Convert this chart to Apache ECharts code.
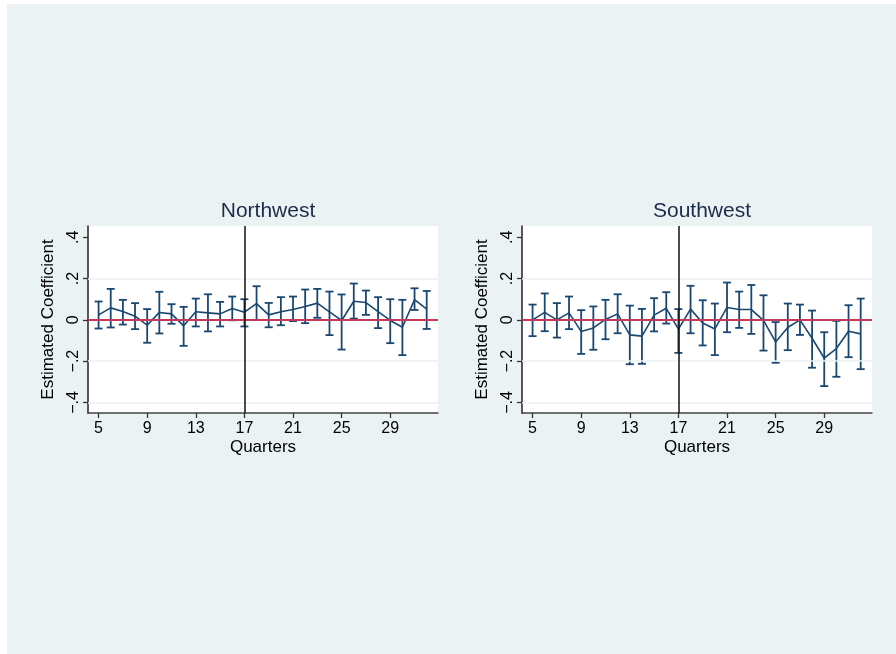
<!DOCTYPE html>
<html>
<head>
<meta charset="utf-8">
<script src="https://cdn.jsdelivr.net/npm/echarts@6/dist/echarts.min.js"></script>
<style>
  html, body { margin: 0; padding: 0; background: #ffffff; }
  #chart { width: 896px; height: 654px; }
</style>
</head>
<body>
<div id="chart"></div>
<script>
// Event-study coefficients by quarter, with 95% confidence bounds
const quarters = [5, 6, 7, 8, 9, 10, 11, 12, 13, 14, 15, 16, 17, 18, 19, 20, 21, 22, 23, 24, 25, 26, 27, 28, 29, 30, 31, 32];

const nwCoef  = [0.024, 0.058, 0.040, 0.018, -0.026, 0.036, 0.029, -0.029, 0.039, 0.034, 0.029, 0.055, 0.037, 0.079, 0.024, 0.039, 0.050, 0.065, 0.081, 0.039, -0.003, 0.090, 0.084, 0.040, -0.003, -0.036, 0.098, 0.052];
const nwUpper = [0.089, 0.150, 0.097, 0.081, 0.052, 0.136, 0.076, 0.063, 0.103, 0.124, 0.087, 0.113, 0.100, 0.163, 0.082, 0.110, 0.113, 0.147, 0.150, 0.137, 0.123, 0.176, 0.142, 0.110, 0.100, 0.097, 0.153, 0.140];
const nwLower = [-0.042, -0.037, -0.023, -0.045, -0.111, -0.066, -0.019, -0.126, -0.032, -0.056, -0.032, -0.002, -0.032, 0.000, -0.036, -0.026, -0.006, -0.016, 0.010, -0.074, -0.144, 0.006, 0.024, -0.040, -0.113, -0.171, 0.048, -0.044];

const swCoef  = [0.000, 0.036, 0.000, 0.034, -0.056, -0.039, 0.002, 0.029, -0.073, -0.079, 0.023, 0.056, -0.045, 0.052, -0.015, -0.044, 0.060, 0.050, 0.050, -0.003, -0.107, -0.037, 0.000, -0.089, -0.186, -0.139, -0.055, -0.068];
const swUpper = [0.074, 0.128, 0.081, 0.113, 0.047, 0.065, 0.097, 0.124, 0.069, 0.053, 0.105, 0.134, 0.052, 0.165, 0.095, 0.079, 0.181, 0.137, 0.169, 0.119, -0.011, 0.079, 0.074, 0.045, -0.060, -0.005, 0.071, 0.103];
const swLower = [-0.079, -0.055, -0.086, -0.045, -0.165, -0.145, -0.094, -0.065, -0.215, -0.213, -0.056, -0.018, -0.160, -0.065, -0.124, -0.171, -0.060, -0.039, -0.068, -0.149, -0.208, -0.147, -0.073, -0.232, -0.321, -0.276, -0.181, -0.239];

const xTicks = [5, 9, 13, 17, 21, 25, 29];
const yTicks = [-0.4, -0.2, 0, 0.2, 0.4];
const gridValues = [0.2, -0.2, -0.4];
const treatmentQuarter = 17;
const panelTitles = ['Northwest', 'Southwest'];

const NAVY = '#1a476f';
const FONT = 'Liberation Sans, Arial, Helvetica, sans-serif';

function fmtY(v) {
  if (Math.abs(v) < 1e-9) return '0';
  const s = Math.abs(v).toFixed(1).replace(/^0/, '');
  return (v < 0 ? '\u2212' : '') + s;
}

function errorBarItem(params, api) {
  const x = api.value(0);
  const lo = api.coord([x, api.value(1)]);
  const hi = api.coord([x, api.value(2)]);
  const half = 4;
  const style = { stroke: NAVY, lineWidth: 1.8, fill: null };
  return {
    type: 'group',
    children: [
      { type: 'line', shape: { x1: lo[0], y1: lo[1], x2: hi[0], y2: hi[1] }, style: style },
      { type: 'line', shape: { x1: lo[0] - half, y1: lo[1], x2: lo[0] + half, y2: lo[1] }, style: style },
      { type: 'line', shape: { x1: hi[0] - half, y1: hi[1], x2: hi[0] + half, y2: hi[1] }, style: style }
    ]
  };
}

const grids = [
  { left: 88, top: 226, width: 350, height: 187 },
  { left: 522, top: 226, width: 350, height: 187 }
];

function xAxisFor(i) {
  return {
    type: 'value', gridIndex: i, min: 4.13, max: 32.93,
    name: 'Quarters', nameLocation: 'middle', nameGap: 26,
    nameTextStyle: { fontFamily: FONT, fontSize: 17, color: '#000' },
    axisLine: { show: true, onZero: false, lineStyle: { color: '#444', width: 1.5 } },
    axisTick: { show: true, inside: false, length: 5, customValues: xTicks, lineStyle: { color: '#333', width: 1.3 } },
    axisLabel: { customValues: xTicks, margin: 8, fontFamily: FONT, fontSize: 16, color: '#000' },
    splitLine: { show: false }
  };
}

function yAxisFor(i) {
  return {
    type: 'value', gridIndex: i, min: -0.4515, max: 0.4549,
    name: 'Estimated Coefficient', nameLocation: 'middle', nameGap: 31, nameRotate: 90,
    nameTextStyle: { fontFamily: FONT, fontSize: 17, color: '#000' },
    axisLine: { show: true, onZero: false, lineStyle: { color: '#222', width: 1.5 } },
    axisTick: { show: true, inside: false, length: 5, customValues: yTicks, lineStyle: { color: '#333', width: 1.3 } },
    axisLabel: { customValues: yTicks, rotate: 90, margin: 6, fontFamily: FONT, fontSize: 16, color: '#000', formatter: fmtY },
    splitLine: { show: false }
  };
}

function panelSeries(i, coef, lower, upper) {
  const refLines = gridValues.map(v => ({ yAxis: v, lineStyle: { color: '#eaf2f3', width: 1.6, type: 'solid' } }));
  refLines.push({ yAxis: 0, lineStyle: { color: '#c4385a', width: 2, type: 'solid' } });
  refLines.push({ xAxis: treatmentQuarter, lineStyle: { color: '#111', width: 1.5, type: 'solid' } });
  return [
    {
      type: 'custom', xAxisIndex: i, yAxisIndex: i, z: 3,
      renderItem: errorBarItem,
      data: quarters.map((q, k) => [q, lower[k], upper[k]]),
      silent: true
    },
    {
      type: 'line', xAxisIndex: i, yAxisIndex: i, z: 4,
      data: quarters.map((q, k) => [q, coef[k]]),
      symbol: 'none', lineStyle: { color: NAVY, width: 1.6 },
      silent: true, animation: false,
      markLine: { silent: true, symbol: ['none', 'none'], label: { show: false }, animation: false, data: refLines }
    }
  ];
}

const chart = echarts.init(document.getElementById('chart'), null, { renderer: 'canvas' });
chart.setOption({
  animation: false,
  backgroundColor: '#ffffff',
  graphic: [
    { type: 'rect', z: -10, silent: true, shape: { x: 7, y: 4, width: 889, height: 650 }, style: { fill: '#eaf2f3' } },
    { type: 'rect', z: -9, silent: true, shape: { x: grids[0].left, y: grids[0].top, width: grids[0].width, height: grids[0].height }, style: { fill: '#ffffff' } },
    { type: 'rect', z: -9, silent: true, shape: { x: grids[1].left, y: grids[1].top, width: grids[1].width, height: grids[1].height }, style: { fill: '#ffffff' } }
  ],
  title: panelTitles.map((t, i) => ({
    text: t,
    left: grids[i].left + grids[i].width / 2,
    textAlign: 'center',
    top: 196,
    textStyle: { fontFamily: FONT, fontSize: 21, fontWeight: 'normal', color: '#1e2a4a' }
  })),
  grid: grids,
  xAxis: [xAxisFor(0), xAxisFor(1)],
  yAxis: [yAxisFor(0), yAxisFor(1)],
  series: [].concat(
    panelSeries(0, nwCoef, nwLower, nwUpper),
    panelSeries(1, swCoef, swLower, swUpper)
  )
});
</script>
</body>
</html>
